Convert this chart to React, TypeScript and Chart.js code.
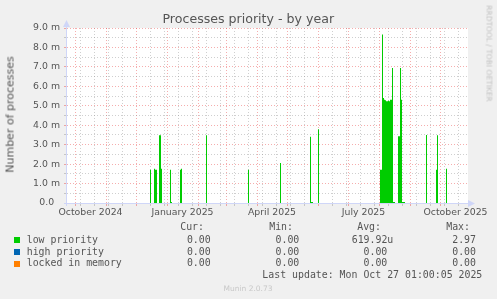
import React, { useEffect, useRef } from "react";
import { Chart, registerables } from "chart.js";

Chart.register(...registerables);

// 400-day window, one day per pixel; day 0 = 2024-09-23
const WINDOW_START = Date.UTC(2024, 8, 23);
const WINDOW_DAYS = 400;

// low priority: days (since window start) with a non-zero daily average, values in milli-processes
const lowPriorityDays = [
  83, 87, 88, 89, 92, 93, 94, 103, 104, 113, 114, 139, 181, 213, 243, 244, 245, 251,
  313, 314, 315, 316, 317, 318, 319, 320, 321, 322, 323, 324, 325, 326, 327,
  331, 332, 333, 334, 335, 336, 337, 359, 369, 370, 379,
];
const lowPriorityValues = [
  1.71, 1.76, 1.71, 1.71, 3.48, 3.48, 1.76, 1.71, 0.05, 1.71, 1.76, 3.48, 1.71, 2.06, 3.41, 0.05, 0.05, 3.79,
  1.71, 1.71, 8.66, 5.4, 5.31, 5.28, 5.23, 5.23, 5.26, 5.23, 5.31, 5.31, 6.94, 0.05, 0.05,
  3.43, 3.43, 6.94, 5.31, 0.05, 0.05, 0.05, 3.5, 1.71, 3.48, 1.76,
];
const highPriorityDays: number[] = [];
const highPriorityValues: number[] = [];
const lockedDays: number[] = [];
const lockedValues: number[] = [];

const seriesNames = ["low priority", "high priority", "locked in memory"];
const seriesColors = ["#00CC00", "#0066B3", "#FF8000"];
const curValues = ["0.00", "0.00", "0.00"];
const minValues = ["0.00", "0.00", "0.00"];
const avgValues = ["619.92u", "0.00", "0.00"];
const maxValues = ["2.97", "0.00", "0.00"];

const yTickLabels = ["0.0", "1.0 m", "2.0 m", "3.0 m", "4.0 m", "5.0 m", "6.0 m", "7.0 m", "8.0 m", "9.0 m"];
const xTickLabels = ["October 2024", "January 2025", "April 2025", "July 2025", "October 2025"];
const xLabelMonths: [number, number][] = [[2024, 9], [2025, 0], [2025, 3], [2025, 6], [2025, 9]];
const gridMonths: [number, number][] = [
  [2024, 9], [2024, 10], [2024, 11], [2025, 0], [2025, 1], [2025, 2], [2025, 3],
  [2025, 4], [2025, 5], [2025, 6], [2025, 7], [2025, 8], [2025, 9],
];
const minorGridFirst: [number, number, number] = [2024, 9, 6];
const minorGridStepDays = 14;

const lastUpdate = "Last update: Mon Oct 27 01:00:05 2025";
const titleText = "Processes priority - by year";
const yTitle = "Number of processes";
const watermark = "RRDTOOL / TOBI OETIKER";
const footer = "Munin 2.0.73";

const RED = "rgba(230,60,60,0.42)";
const GRAY = "rgba(140,140,140,0.42)";
const NONE = "rgba(0,0,0,0)";
const AXIS = "#CFD6F8";
const TEXT = "#555555";

const dayOf = (y: number, m: number, d = 1) => (Date.UTC(y, m, d) - WINDOW_START) / 86400000;

function daily(days: number[], values: number[]) {
  const map = new Map<number, number>();
  days.forEach((d, i) => map.set(d, values[i]));
  const out: { x: number; y: number }[] = [];
  for (let d = 0; d <= WINDOW_DAYS; d++) {
    out.push({ x: d, y: map.get(Math.min(d, WINDOW_DAYS - 1)) ?? 0 });
  }
  return out;
}

// x ticks: major (month starts), minor (bi-weekly), labels (mid-month)
const xKind = new Map<number, string>();
const xLabel = new Map<number, string>();
xLabelMonths.forEach(([y, m], i) => {
  const v = (dayOf(y, m, 1) + dayOf(y, m + 1, 1)) / 2;
  xKind.set(v, "label");
  xLabel.set(v, xTickLabels[i]);
});
for (let v = dayOf(...minorGridFirst); v < WINDOW_DAYS; v += minorGridStepDays) {
  if (!xKind.has(v)) xKind.set(v, "minor");
}
gridMonths.forEach(([y, m]) => xKind.set(dayOf(y, m, 1), "major"));
const xTickValues = Array.from(xKind.keys()).filter((v) => v > 0 && v < WINDOW_DAYS).sort((a, b) => a - b);

const xColor = (ctx: any) => {
  if (!ctx.tick) return NONE;
  const k = xKind.get(ctx.tick.value);
  return k === "major" ? RED : k === "minor" ? GRAY : NONE;
};
const yColor = (ctx: any) => {
  if (!ctx.tick) return NONE;
  const v = ctx.tick.value;
  if (v === 0) return NONE;
  return Number.isInteger(v) ? RED : GRAY;
};

const rrdPlugin = {
  id: "rrdCanvas",
  beforeDraw(chart: any) {
    const { ctx, chartArea: a } = chart;
    ctx.save();
    ctx.fillStyle = "#ffffff";
    ctx.fillRect(a.left, a.top, a.right - a.left + 1, a.bottom - a.top);
    ctx.restore();
  },
  afterDraw(chart: any) {
    const { ctx, chartArea: a } = chart;
    ctx.save();
    ctx.strokeStyle = AXIS;
    ctx.fillStyle = AXIS;
    ctx.lineWidth = 1;
    const xl = a.left - 0.5;
    const yb = a.bottom + 0.5;
    ctx.beginPath();
    ctx.moveTo(xl, a.bottom + 3);
    ctx.lineTo(xl, a.top - 4);
    ctx.moveTo(a.left - 3, yb);
    ctx.lineTo(a.right + 2, yb);
    ctx.stroke();
    ctx.beginPath();
    ctx.moveTo(xl, a.top - 8);
    ctx.lineTo(xl - 3.5, a.top - 1);
    ctx.lineTo(xl + 3.5, a.top - 1);
    ctx.closePath();
    ctx.fill();
    ctx.beginPath();
    ctx.moveTo(a.right + 8, yb);
    ctx.lineTo(a.right + 1, yb - 3.5);
    ctx.lineTo(a.right + 1, yb + 3.5);
    ctx.closePath();
    ctx.fill();
    ctx.restore();
  },
};

function Txt(props: {
  x: number; baseline: number; size: number; align?: "left" | "right" | "center";
  mono?: boolean; color?: string; children: React.ReactNode;
}) {
  const { x, baseline, size, align = "left", mono = false, color = TEXT, children } = props;
  const style: any = {
    position: "absolute",
    top: baseline - 0.846 * size,
    fontSize: size,
    lineHeight: 1,
    whiteSpace: "pre",
    color,
    fontFamily: mono ? '"DejaVu Sans Mono", monospace' : '"DejaVu Sans", sans-serif',
  };
  if (align === "left") style.left = x;
  else if (align === "right") style.right = 497 - x;
  else {
    style.left = x - 250;
    style.width = 500;
    style.textAlign = "center";
  }
  return <div style={style}>{children}</div>;
}

export default function App() {
  const ref = useRef<HTMLCanvasElement>(null);

  useEffect(() => {
    if (!ref.current) return;
    const font = { family: "DejaVu Sans", size: 9.33 };
    const mk = (i: number, days: number[], values: number[]) => ({
      label: seriesNames[i],
      data: daily(days, values),
      stepped: "before" as const,
      fill: "origin",
      backgroundColor: seriesColors[i],
      borderColor: NONE,
      borderWidth: 0,
      pointRadius: 0,
      pointHoverRadius: 0,
      tension: 0,
    });
    const chart = new Chart(ref.current, {
      type: "line",
      data: {
        datasets: [
          mk(0, lowPriorityDays, lowPriorityValues),
          mk(1, highPriorityDays, highPriorityValues),
          mk(2, lockedDays, lockedValues),
        ],
      },
      options: {
        responsive: false,
        devicePixelRatio: 1,
        animation: false,
        events: [],
        layout: { padding: { left: 0, right: 30, top: 28, bottom: 76 } },
        plugins: { legend: { display: false }, title: { display: false }, tooltip: { enabled: false } },
        scales: {
          x: {
            type: "linear",
            min: 0,
            max: WINDOW_DAYS,
            afterBuildTicks: (scale: any) => {
              scale.ticks = xTickValues.map((value) => ({ value }));
            },
            afterFit: (scale: any) => {
              scale.height = 20;
            },
            grid: { color: xColor, tickColor: xColor, tickLength: 3, lineWidth: 1, drawTicks: true },
            border: { display: false, dash: [1, 2] },
            ticks: {
              autoSkip: false,
              maxRotation: 0,
              minRotation: 0,
              padding: 1,
              color: TEXT,
              font,
              callback: (v: any) => xLabel.get(Number(v)) ?? "",
            },
          },
          y: {
            type: "linear",
            min: 0,
            max: 9,
            afterFit: (scale: any) => {
              scale.width = 67;
            },
            grid: { color: yColor, tickColor: yColor, tickLength: 3, lineWidth: 1, drawTicks: true },
            border: { display: false, dash: [1, 2] },
            ticks: {
              stepSize: 0.5,
              autoSkip: false,
              padding: 4,
              color: TEXT,
              font,
              callback: (v: any) => {
                const n = Number(v);
                if (!Number.isInteger(n)) return "";
                const l = yTickLabels[n];
                return l.endsWith("m") ? l : l + "\u00a0\u00a0";
              },
            },
          },
        },
      } as any,
      plugins: [rrdPlugin],
    } as any);
    return () => chart.destroy();
  }, []);

  const headerBase = 230.7;
  const rowBases = [243.3, 255, 266.7];
  const squareTops = [237.2, 248.9, 260.6];

  return (
    <div
      style={{
        position: "absolute",
        left: 0,
        top: 0,
        width: 497,
        height: 299,
        background: "#f0f0f0",
        overflow: "hidden",
      }}
    >
      <canvas ref={ref} width={497} height={299} style={{ position: "absolute", left: 0, top: 0, width: 497, height: 299 }} />
      <Txt x={248.3} baseline={24} size={12.6} align="center">{titleText}</Txt>
      <div
        style={{
          position: "absolute",
          left: 10.2 - 100,
          top: 114 - 6.5,
          width: 200,
          height: 13,
          lineHeight: "13px",
          fontSize: 11,
          textAlign: "center",
          whiteSpace: "pre",
          color: TEXT,
          fontFamily: '"DejaVu Sans", sans-serif',
          transform: "rotate(-90deg)",
        }}
      >
        {yTitle}
      </div>
      <div
        style={{
          position: "absolute",
          left: 488.8 - 60,
          top: 53.5 - 4.5,
          width: 120,
          height: 9,
          lineHeight: "9px",
          fontSize: 7.5,
          textAlign: "center",
          whiteSpace: "pre",
          color: "#c2c2c2",
          fontFamily: '"DejaVu Sans", sans-serif',
          transform: "rotate(90deg)",
        }}
      >
        {watermark}
      </div>

      <Txt x={204} baseline={headerBase} size={9.9} align="right" mono>Cur:</Txt>
      <Txt x={293} baseline={headerBase} size={9.9} align="right" mono>Min:</Txt>
      <Txt x={381} baseline={headerBase} size={9.9} align="right" mono>Avg:</Txt>
      <Txt x={470} baseline={headerBase} size={9.9} align="right" mono>Max:</Txt>

      {seriesNames.map((name, i) => (
        <React.Fragment key={name}>
          <div
            style={{
              position: "absolute",
              left: 14,
              top: squareTops[i],
              width: 6,
              height: 6,
              background: seriesColors[i],
            }}
          />
          <Txt x={26.7} baseline={rowBases[i]} size={9.9} mono>{name}</Txt>
          <Txt x={210.7} baseline={rowBases[i]} size={9.9} align="right" mono>{curValues[i]}</Txt>
          <Txt x={299.3} baseline={rowBases[i]} size={9.9} align="right" mono>{minValues[i]}</Txt>
          <Txt x={avgValues[i].endsWith("u") ? 393.3 : 387.3} baseline={rowBases[i]} size={9.9} align="right" mono>
            {avgValues[i]}
          </Txt>
          <Txt x={476} baseline={rowBases[i]} size={9.9} align="right" mono>{maxValues[i]}</Txt>
        </React.Fragment>
      ))}
      <Txt x={482.3} baseline={278.7} size={9.9} align="right" mono>{lastUpdate}</Txt>
      <Txt x={248} baseline={291} size={7.5} align="center" color="#c8c8c8">{footer}</Txt>
    </div>
  );
}
